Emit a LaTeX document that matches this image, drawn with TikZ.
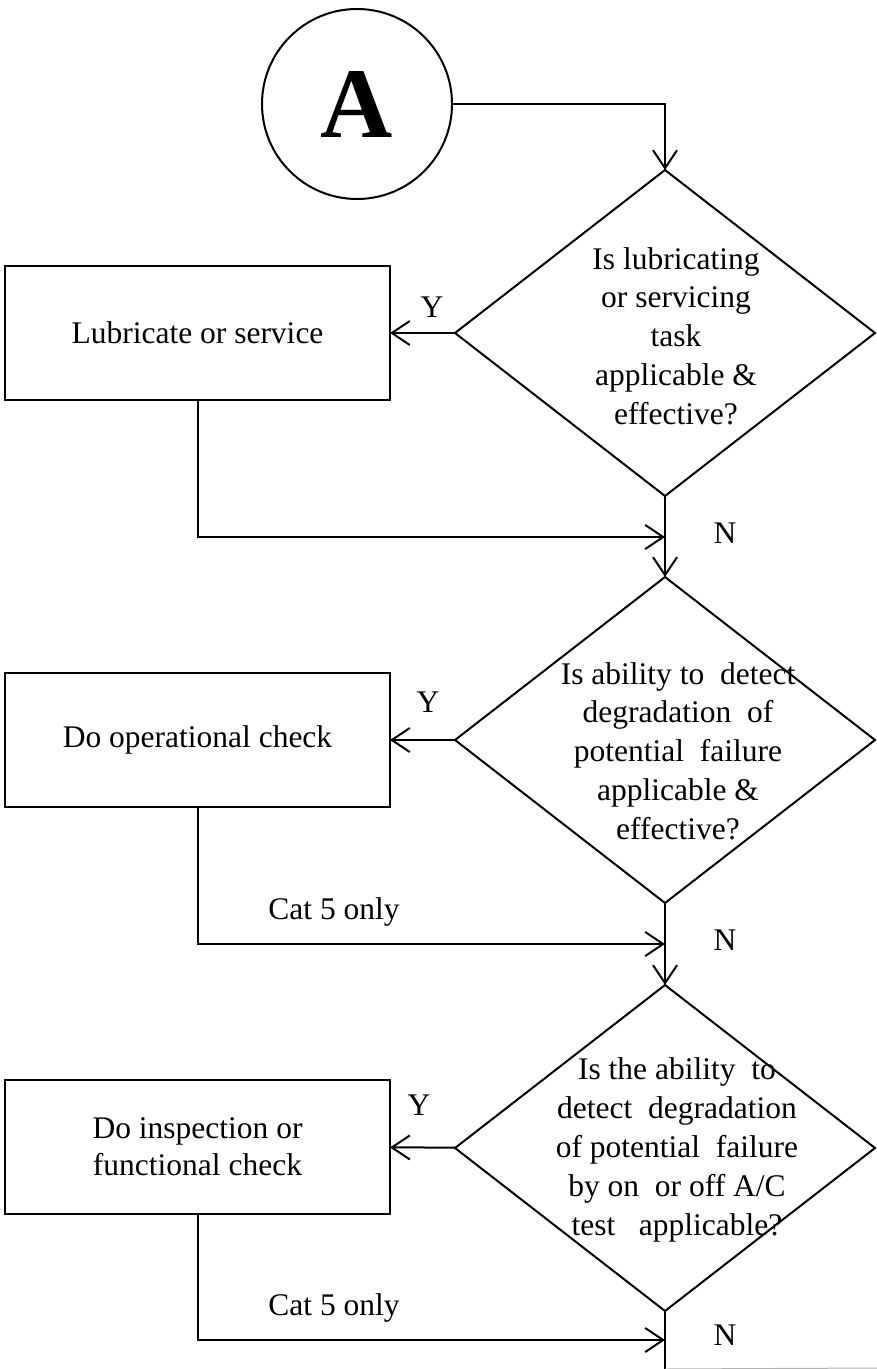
\documentclass[tikz,border=0pt]{standalone}
\usepackage{fontspec}
\setmainfont{Liberation Serif}
\usetikzlibrary{shapes.geometric,arrows.meta}
\tikzset{
  task/.style={draw, minimum width=192.5pt, minimum height=67pt, inner sep=0pt, outer sep=0pt, align=center, font=\fontsize{15.75}{18.5}\selectfont},
  query/.style={draw, diamond, minimum width=210pt, minimum height=163pt, inner sep=0pt, outer sep=0pt},
  qtext/.style={align=center, inner sep=0pt, font=\fontsize{15.75}{19.4}\selectfont},
  lbl/.style={inner sep=0pt, font=\fontsize{15.75}{18}\selectfont},
}
\begin{document}
\begin{tikzpicture}[x=0.5pt, y=-0.5pt, line width=1pt, >={Straight Barb[length=9pt,width=12pt]}]
  \useasboundingbox (0,0) rectangle (877,1369);
  \node[draw, circle, minimum size=95pt, inner sep=0pt, outer sep=0pt, font=\fontsize{50}{50}\selectfont\bfseries] (start) at (357,104) {A};

  % decisions
  \node[query] (q1) at (665,333) {};
  \node[query] (q2) at (665,740) {};
  \node[query] (q3) at (665,1148) {};
  \node[qtext] (q1txt) at (676,336) {Is lubricating\\or servicing\\task\\applicable \&\\effective?};
  \node[qtext] (q2txt) at (678,751) {Is ability to~ detect\\degradation~ of\\potential~ failure\\applicable \&\\effective?};
  \node[qtext] (q3txt) at (677,1150) {Is the ability~ to\\detect~ degradation\\of potential~ failure\\by on~ or off A/C\\test~~ applicable?};

  % tasks
  \node[task] (lube) at (197.5,333) {Lubricate or service};
  \node[task] (opcheck) at (197.5,740) {Do operational check};
  \node[task] (inspect) at (197.5,1147) {Do inspection or\\functional check};

  \coordinate (j1) at (665,537);
  \coordinate (j2) at (665,944);
  \coordinate (j3) at (665,1340);
  \coordinate (tail) at (665,1369);

  \draw[->] (start) -| (q1);
  \draw[->] (q1) -- (lube);
  \draw[->] (q2) -- (opcheck);
  \draw[->] (q3) -- (inspect);
  \draw[->] (lube) |- (j1);
  \draw[->] (opcheck) |- (j2);
  \draw[->] (inspect) |- (j3);
  \draw[->] (q1) -- (q2);
  \draw[->] (q2) -- (q3);
  \draw (q3) -- (tail);
  \draw[gray!60, line width=0.5pt] (tail) -- (877,1368);

  % labels
  \node[lbl] (y1) at (432,307) {Y};
  \node[lbl] (y2) at (428,702) {Y};
  \node[lbl] (y3) at (419,1105) {Y};
  \node[lbl] (n1) at (725,533) {N};
  \node[lbl] (n2) at (725,940) {N};
  \node[lbl] (n3) at (725,1335) {N};
  \node[lbl] (cat2) at (334,912) {Cat 5 only};
  \node[lbl] (cat3) at (334,1308) {Cat 5 only};
\end{tikzpicture}
\end{document}
